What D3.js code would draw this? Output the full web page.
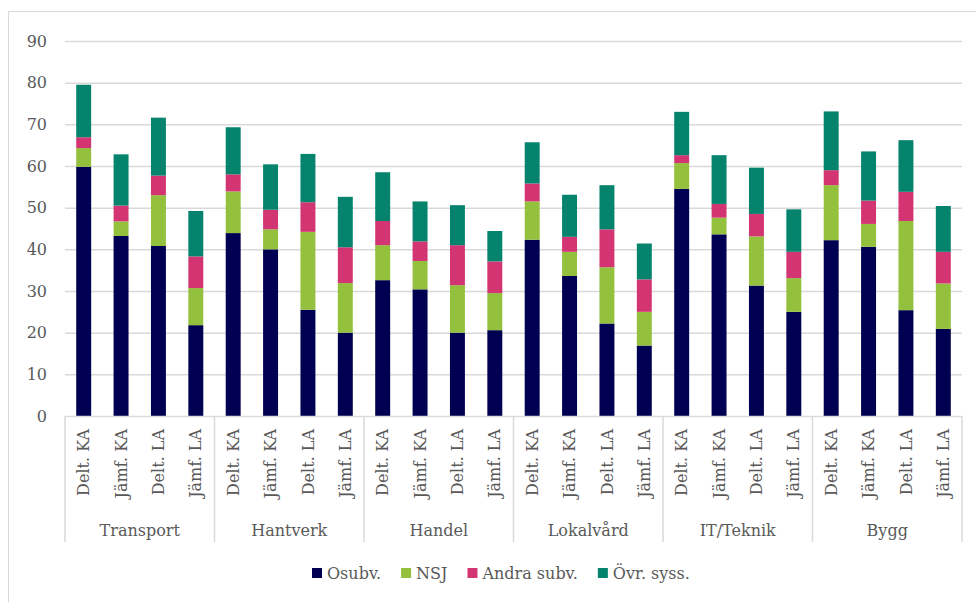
<!DOCTYPE html>
<html>
<head>
<meta charset="utf-8">
<script src="https://cdn.jsdelivr.net/npm/d3@7"></script>
<style>
  html, body { margin: 0; padding: 0; background: #fff; }
  svg { display: block; font-family: "DejaVu Serif", serif; }
  text { fill: #595959; }
</style>
</head>
<body>
<svg id="chart" width="976" height="602"></svg>
<script>
// groups and sub categories
let groups = ["Transport", "Hantverk", "Handel", "Lokalvård", "IT/Teknik", "Bygg"];
let subs = ["Delt. KA", "Jämf. KA", "Delt. LA", "Jämf. LA"];

let seriesNames = ["Osubv.", "NSJ", "Andra subv.", "Övr. syss."];
let seriesColors = ["#000052", "#93C13E", "#D33573", "#05836D"];

// one value per bar, in group order (4 bars per group)
let osubv = [59.8, 43.2, 40.8, 21.8,  43.9, 40.0, 25.5, 20.0,  32.6, 30.4, 20.0, 20.6,
             42.3, 33.6, 22.2, 16.9,  54.5, 43.6, 31.3, 25.0,  42.2, 40.6, 25.4, 20.9];
let nsj   = [4.5, 3.5, 12.2, 8.9,  10.0, 4.8, 18.7, 11.9,  8.4, 6.8, 11.4, 8.9,
             9.2, 5.8, 13.5, 8.1,  6.2, 4.0, 11.8, 8.1,  13.2, 5.5, 21.4, 10.9];
let andra = [2.6, 3.8, 4.7, 7.6,  4.1, 4.7, 7.1, 8.6,  5.8, 4.7, 9.6, 7.6,
             4.3, 3.6, 9.1, 7.8,  1.9, 3.3, 5.4, 6.3,  3.6, 5.6, 7.0, 7.6];
let ovr   = [12.6, 12.3, 13.9, 10.9,  11.3, 10.9, 11.6, 12.1,  11.7, 9.6, 9.6, 7.3,
             9.9, 10.1, 10.6, 8.6,  10.4, 11.7, 11.1, 10.2,  14.1, 11.8, 12.4, 11.0];

let yTicks = [0, 10, 20, 30, 40, 50, 60, 70, 80, 90];

let rows = [];
groups.forEach((g, gi) => {
  subs.forEach((s, si) => {
    let i = gi * subs.length + si;
    rows.push({key: i, group: g, sub: s, v0: osubv[i], v1: nsj[i], v2: andra[i], v3: ovr[i]});
  });
});

let svg = d3.select("#chart");
let plotLeft = 65, plotRight = 962, plotTop = 41, plotBottom = 416;

// outer frame (top and left edges show)
svg.append("line").attr("x1", 8.5).attr("x2", 976).attr("y1", 11.5).attr("y2", 11.5)
   .attr("stroke", "#d9d9d9").attr("stroke-width", 1);
svg.append("line").attr("x1", 8.5).attr("x2", 8.5).attr("y1", 11.5).attr("y2", 602)
   .attr("stroke", "#d9d9d9").attr("stroke-width", 1);

let x = d3.scaleBand()
  .domain(rows.map(d => d.key))
  .range([plotLeft, plotRight])
  .paddingInner(0.6)
  .paddingOuter(0.3);

let y = d3.scaleLinear().domain([0, 90]).range([plotBottom, plotTop]);

// gridlines
svg.append("g")
  .selectAll("line")
  .data(yTicks.filter(t => t > 0))
  .enter()
  .append("line")
  .attr("x1", plotLeft).attr("x2", plotRight)
  .attr("y1", d => y(d) + 0.5).attr("y2", d => y(d) + 0.5)
  .attr("stroke", "#d9d9d9").attr("stroke-width", 1.5);

// y labels
svg.append("g")
  .selectAll("text")
  .data(yTicks)
  .enter()
  .append("text")
  .attr("x", 47)
  .attr("y", d => y(d))
  .attr("dy", "0.35em")
  .attr("text-anchor", "end")
  .style("font-size", "16px")
  .text(d => d);

// stacked bars
let stack = d3.stack().keys(["v0", "v1", "v2", "v3"]);
let layers = stack(rows);

svg.append("g")
  .selectAll("g")
  .data(layers)
  .enter()
  .append("g")
  .attr("fill", (d, i) => seriesColors[i])
  .selectAll("rect")
  .data(d => d)
  .enter()
  .append("rect")
  .attr("x", d => x(d.data.key))
  .attr("width", x.bandwidth())
  .attr("y", d => y(d[1]))
  .attr("height", d => y(d[0]) - y(d[1]));

// x axis line
svg.append("line").attr("x1", plotLeft).attr("x2", plotRight)
  .attr("y1", plotBottom + 0.5).attr("y2", plotBottom + 0.5)
  .attr("stroke", "#d9d9d9").attr("stroke-width", 1.5);

// group separators
let step = (plotRight - plotLeft) / rows.length;
let sepX = d3.range(groups.length + 1).map(i => plotLeft + i * subs.length * step);
svg.append("g")
  .selectAll("line")
  .data(sepX)
  .enter()
  .append("line")
  .attr("x1", d => d).attr("x2", d => d)
  .attr("y1", plotBottom).attr("y2", 542)
  .attr("stroke", "#d9d9d9").attr("stroke-width", 1.5);

// sub labels, rotated
svg.append("g")
  .selectAll("text")
  .data(rows)
  .enter()
  .append("text")
  .attr("transform", d => `translate(${x(d.key) + x.bandwidth() / 2}, 429) rotate(-90)`)
  .attr("dy", "0.35em")
  .attr("text-anchor", "end")
  .style("font-size", "16px")
  .text(d => d.sub);

// group labels
svg.append("g")
  .selectAll("text")
  .data(groups)
  .enter()
  .append("text")
  .attr("x", (d, i) => (sepX[i] + sepX[i + 1]) / 2)
  .attr("y", 536)
  .attr("text-anchor", "middle")
  .style("font-size", "16px")
  .text(d => d);

// legend
let legend = svg.append("g").attr("class", "legend");
let lx = 312;
seriesNames.forEach((name, i) => {
  let item = legend.append("g").attr("transform", `translate(${lx}, 573)`);
  item.append("rect").attr("x", 0).attr("y", -5).attr("width", 10).attr("height", 10)
    .attr("fill", seriesColors[i]);
  let t = item.append("text").attr("x", 15).attr("dy", "0.35em")
    .style("font-size", "16px").text(name);
  lx += 15 + t.node().getComputedTextLength() + 20;
});
</script>
</body>
</html>
